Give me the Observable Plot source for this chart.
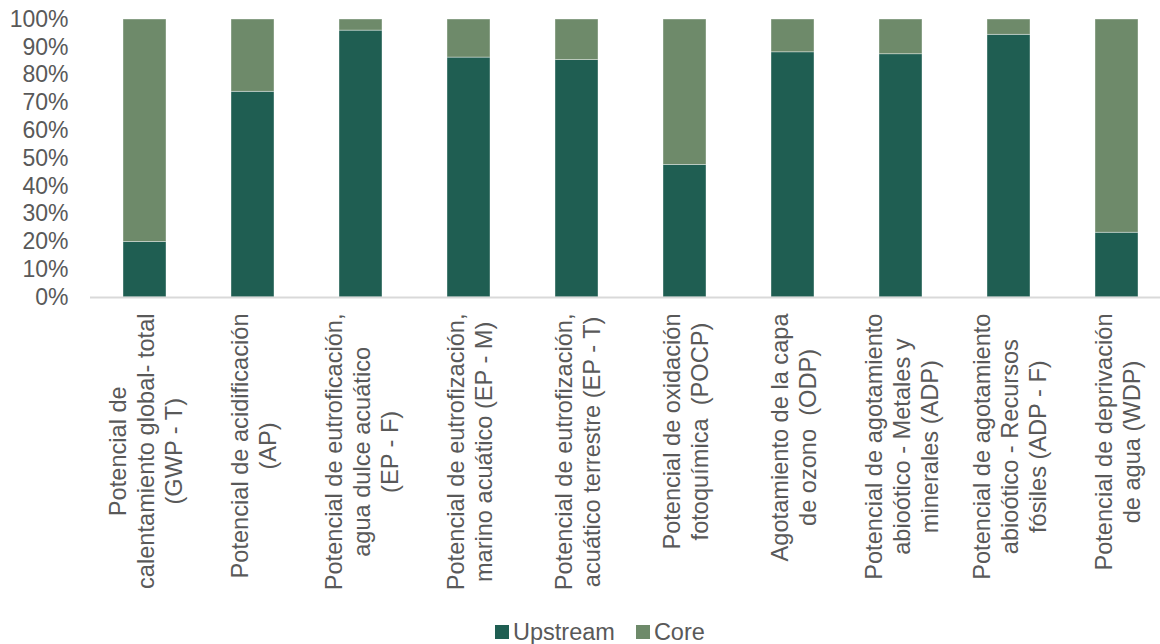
<!DOCTYPE html>
<html><head><meta charset="utf-8">
<script src="https://cdn.jsdelivr.net/npm/d3@7"></script>
<script src="https://cdn.jsdelivr.net/npm/@observablehq/plot@0.6"></script>
<style>
body{margin:0;background:#fff;font-family:"Liberation Sans",Arial,sans-serif;}
#wrap{position:relative;width:1160px;height:644px;overflow:hidden;}
#legend{position:absolute;left:495px;top:617px;display:flex;align-items:center;font-size:23.5px;color:#595959;line-height:30px;}
#legend .item{display:flex;align-items:center;margin-right:21px;}
#legend .sw{width:14px;height:14px;display:inline-block;margin-right:4px;}
</style></head><body>
<div id="wrap"><div id="chart"></div><div id="legend"></div></div>
<script>
const categories = [
  "Potencial de\ncalentamiento global- total\n(GWP - T)",
  "Potencial de acidificación\n(AP)",
  "Potencial de eutroficación,\nagua dulce acuático\n(EP - F)",
  "Potencial de eutrofización,\nmarino acuático (EP - M)",
  "Potencial de eutrofización,\nacuático terrestre (EP - T)",
  "Potencial de oxidación\nfotoquímica  (POCP)",
  "Agotamiento de la capa\nde ozono  (ODP)",
  "Potencial de agotamiento\nabioótico - Metales y\nminerales (ADP)",
  "Potencial de agotamiento\nabioótico - Recursos\nfósiles (ADP - F)",
  "Potencial de deprivación\nde agua (WDP)"
];
const upstream = [20, 74, 96, 86.3, 85.4, 47.7, 88.2, 87.5, 94.5, 23.3];
const core = [80, 26, 4, 13.7, 14.6, 52.3, 11.8, 12.5, 5.5, 76.7];
const series = ["Upstream", "Core"];
const colors = ["#1F5E52", "#6E8A6A"];
const yTicks = [0, 10, 20, 30, 40, 50, 60, 70, 80, 90, 100];

const data = categories.flatMap((c, i) => [
  {cat: c, series: "Upstream", value: upstream[i]},
  {cat: c, series: "Core", value: core[i]}
]);

const FONT = "Liberation Sans";
const FS = 23.6;
const ctx = document.createElement("canvas").getContext("2d");
ctx.font = `${FS}px '${FONT}'`;
const maxW = c => d3.max(c.split("\n"), l => ctx.measureText(l).width);

const labelMarks = categories.map(c => Plot.text([c], {
  x: d => d, text: d => d, frameAnchor: "bottom", rotate: -90,
  textAnchor: "middle", lineAnchor: "middle", lineHeight: 1.2,
  dy: 16 + maxW(c) / 2, fill: "#595959", fontSize: FS, fontFamily: FONT
}));

const chart = Plot.plot({
  width: 1160, height: 612,
  marginLeft: 90, marginRight: 0, marginTop: 19, marginBottom: 315,
  style: {fontFamily: FONT, fontSize: "23px", color: "#595959", background: "white", overflow: "visible"},
  x: {domain: categories, range: [90, 1171], paddingInner: 0.6, paddingOuter: 0.3, axis: null},
  y: {domain: [0, 100], ticks: yTicks, tickFormat: d => d + "%", tickSize: 0, tickPadding: 22, label: null},
  color: {domain: series, range: colors},
  marks: [
    Plot.barY(data, {x: "cat", y: "value", fill: "series", stroke: "white", strokeOpacity: 0.5, strokeWidth: 0.75}),
    Plot.ruleY([0], {stroke: "#d9d9d9", strokeWidth: 2}),
    ...labelMarks
  ]
});
chart.querySelectorAll("text").forEach(t => t.style.whiteSpace = "pre");
document.getElementById("chart").appendChild(chart);

const legend = document.getElementById("legend");
series.forEach((s, i) => {
  const item = document.createElement("div");
  item.className = "item";
  const sw = document.createElement("span");
  sw.className = "sw";
  sw.style.background = colors[i];
  item.appendChild(sw);
  item.appendChild(document.createTextNode(s));
  legend.appendChild(item);
});
</script>
</body></html>
